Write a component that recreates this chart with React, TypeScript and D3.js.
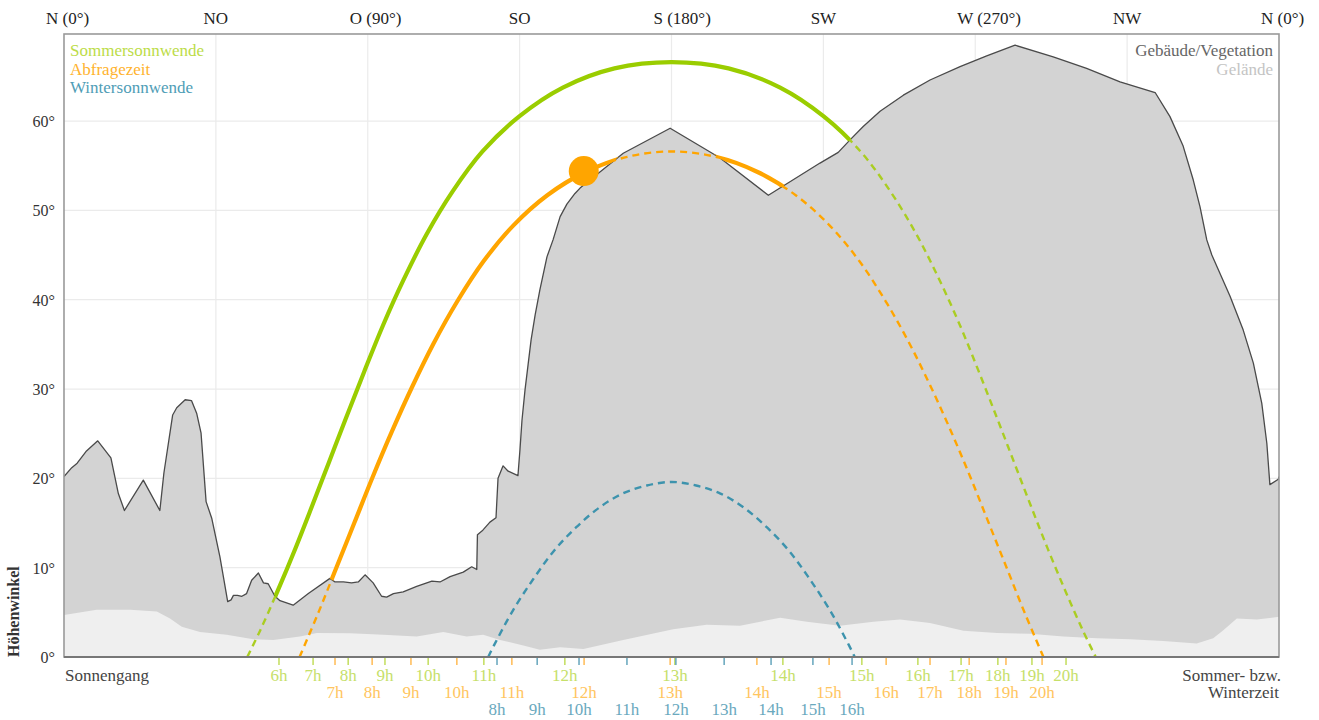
import React from 'react';
import * as d3 from 'd3';

// ---------- data ----------
const directionLabels = ['N (0°)', 'NO', 'O (90°)', 'SO', 'S (180°)', 'SW', 'W (270°)', 'NW', 'N (0°)'];
const directionAz = [0, 45, 90, 135, 180, 225, 270, 315, 360];
const elevationTicks = [0, 10, 20, 30, 40, 50, 60];

// Gebäude/Vegetation horizon [azimuth, elevation]
const horizon: [number, number][] = [
  [0, 20.2], [2.3, 21.2], [3.9, 21.7], [6.5, 23.0], [10.0, 24.2], [13.9, 22.3], [16.1, 18.3], [17.9, 16.4],
  [23.5, 19.8], [28.4, 16.4], [29.6, 20.6], [32.2, 27.1], [33.4, 27.9], [35.9, 28.8], [37.8, 28.7], [39.3, 27.3],
  [40.6, 25.1], [42.1, 17.4], [43.8, 15.5], [46.2, 11.2], [47.4, 8.6], [48.5, 6.2], [49.5, 6.4], [50.2, 6.9],
  [51.4, 6.9], [52.7, 6.8], [54.1, 7.1], [55.6, 8.6], [57.6, 9.4], [59.1, 8.3], [60.5, 8.2], [62.5, 6.8],
  [64.0, 6.3], [67.9, 5.8], [72.4, 7.1], [78.8, 8.8], [80.3, 8.4], [82.8, 8.4], [85.2, 8.3], [87.2, 8.4],
  [89.2, 9.2], [91.6, 8.3], [94.1, 6.8], [95.6, 6.7], [97.6, 7.1], [100.5, 7.3], [104.5, 7.9], [109.0, 8.5],
  [111.4, 8.4], [114.4, 9.0], [118.3, 9.5], [120.8, 10.1], [122.3, 9.8], [122.5, 13.7], [124.1, 14.2],
  [126.2, 15.1], [128.0, 15.6], [128.6, 20.0], [130.1, 21.4], [131.6, 20.8], [134.5, 20.3], [135.1, 23.2],
  [135.7, 26.5], [136.6, 29.9], [137.5, 32.7], [138.4, 35.5], [139.6, 38.3], [141.0, 41.1], [143.1, 44.8],
  [144.9, 46.7], [147.0, 49.3], [149.0, 50.7], [151.4, 51.9], [152.9, 52.5], [165.7, 56.4], [179.6, 59.2],
  [194.3, 55.9], [208.7, 51.7], [224.0, 55.3], [229.4, 56.5], [232.9, 57.9], [236.8, 59.4], [241.8, 61.1],
  [248.7, 62.9], [256.6, 64.6], [265.5, 66.1], [273.4, 67.3], [281.8, 68.5], [293.1, 67.2], [303.0, 65.9],
  [312.9, 64.4], [323.3, 63.2], [327.7, 60.5], [331.6, 57.2], [334.6, 53.4], [336.6, 50.4], [338.6, 46.7],
  [340.1, 45.0], [345.5, 40.4], [349.4, 36.6], [352.4, 32.9], [354.9, 28.4], [356.4, 23.9], [357.3, 19.3],
  [359.8, 19.9], [360, 20.2],
];

// Gelände (terrain) horizon [azimuth, elevation]
const terrain: [number, number][] = [
  [0, 4.7], [9.7, 5.3], [19.6, 5.3], [27.5, 5.1], [31.4, 4.3], [34.9, 3.4], [40.3, 2.8], [48.2, 2.5],
  [56.1, 2.0], [62.0, 1.9], [69.9, 2.3], [74.9, 2.7], [84.7, 2.65], [94.6, 2.5], [104.5, 2.3], [112.4, 2.8],
  [119.3, 2.3], [124.2, 2.5], [129.2, 1.9], [136.1, 1.3], [141.0, 0.8], [147.0, 1.1], [153.9, 0.9],
  [165.7, 1.9], [180.5, 3.1], [190.4, 3.6], [200.3, 3.5], [212.2, 4.4], [220.1, 3.95], [229.9, 3.5],
  [239.8, 3.95], [247.7, 4.2], [256.6, 3.8], [266.5, 2.95], [276.4, 2.7], [286.2, 2.6], [296.1, 2.3],
  [306.0, 2.1], [315.9, 2.0], [325.7, 1.8], [335.6, 1.5], [340.5, 2.1], [343.5, 3.0], [347.5, 4.3],
  [353.4, 4.2], [360, 4.5],
];

// Sun paths [azimuth, elevation]
const summerPath: [number, number][] = [
  [54.3, 0], [58.1, 2.95], [63.3, 7.4], [68.5, 12.1], [73.5, 16.9], [78.6, 21.9], [83.7, 26.9], [89.0, 32.0],
  [94.6, 37.2], [100.7, 42.3], [107.4, 47.3], [115.1, 52.1], [124.0, 56.6], [134.8, 60.5], [147.8, 63.75],
  [163.1, 65.9], [180, 66.6], [196.9, 65.9], [212.2, 63.75], [225.2, 60.5], [236.0, 56.6], [244.9, 52.1],
  [252.6, 47.3], [259.3, 42.3], [265.4, 37.2], [271.0, 32.0], [276.3, 26.9], [281.4, 21.9], [286.5, 16.9],
  [291.5, 12.1], [296.7, 7.4], [301.9, 2.95], [305.7, 0],
];
const queryPath: [number, number][] = [
  [69.8, 0], [75.3, 4.9], [80.6, 9.9], [86.0, 15.0], [91.4, 20.1], [97.1, 25.2], [103.1, 30.2], [109.5, 35.1],
  [116.5, 39.8], [124.3, 44.3], [133.1, 48.3], [143.2, 51.7], [154.5, 54.3], [166.9, 56.0], [180, 56.6],
  [193.1, 56.0], [205.5, 54.3], [216.8, 51.7], [226.9, 48.3], [235.7, 44.3], [243.5, 39.8], [250.5, 35.1],
  [256.9, 30.2], [262.9, 25.2], [268.6, 20.1], [274.0, 15.0], [279.4, 9.9], [284.7, 4.9], [290.2, 0],
];
const winterPath: [number, number][] = [
  [125.7, 0], [127.4, 1.3], [133.0, 5.2], [139.0, 8.7], [145.2, 11.9], [151.7, 14.5], [158.5, 16.7],
  [165.5, 18.3], [172.7, 19.2], [180, 19.6], [187.3, 19.2], [194.5, 18.3], [201.5, 16.7], [208.3, 14.5],
  [214.8, 11.9], [221.0, 8.7], [227.0, 5.2], [232.6, 1.3], [234.3, 0],
];
const sunPosition: [number, number] = [154.0, 54.4];

// Hour marks (azimuth of the sun at each full hour)
const summerHourLabels = ['6h', '7h', '8h', '9h', '10h', '11h', '12h', '13h', '14h', '15h', '16h', '17h', '18h', '19h', '20h'];
const summerHourAz = [63.7, 73.8, 84.2, 95.1, 107.9, 124.4, 148.4, 181.0, 213.0, 236.4, 253.0, 265.8, 276.7, 286.8, 296.9];
const queryHourLabels = ['7h', '8h', '9h', '10h', '11h', '12h', '13h', '14h', '15h', '16h', '17h', '18h', '19h', '20h'];
const queryHourAz = [80.3, 91.3, 102.8, 116.4, 132.7, 154.1, 179.6, 205.3, 226.7, 243.6, 256.6, 268.2, 279.1, 289.8];
const winterHourLabels = ['8h', '9h', '10h', '11h', '12h', '13h', '14h', '15h', '16h'];
const winterHourAz = [128.3, 140.2, 152.6, 166.8, 181.3, 195.6, 209.5, 221.9, 233.5];

// ---------- layout / style ----------
const W = 1319;
const H = 720;
const L = 64;
const R = 1279;
const T = 34;
const B = 657;
const FONT = '"Liberation Serif", "Times New Roman", serif';

const C_SUMMER = '#9acd00';
const C_QUERY = '#ffa500';
const C_WINTER = '#3d93ad';

export default function App() {
  const x = d3.scaleLinear().domain([0, 360]).range([L, R]);
  const y = d3.scaleLinear().domain([0, 69.75]).range([B, T]);

  const area = d3.area<[number, number]>().x((d) => x(d[0])).y0(y(0)).y1((d) => y(d[1]));
  const skyArea = d3.area<[number, number]>().x((d) => x(d[0])).y0(y(69.75)).y1((d) => y(d[1]));
  const hLine = d3.line<[number, number]>().x((d) => x(d[0])).y((d) => y(d[1]));
  const sunLine = d3
    .line<[number, number]>()
    .x((d) => x(d[0]))
    .y((d) => y(d[1]))
    .curve(d3.curveCatmullRom.alpha(0.5));

  const hourRows = [
    { labels: summerHourLabels, az: summerHourAz, tick: '#c2dd5c', text: '#c6e06a', dy: 24 },
    { labels: queryHourLabels, az: queryHourAz, tick: '#ffbb55', text: '#ffc560', dy: 41 },
    { labels: winterHourLabels, az: winterHourAz, tick: '#65a5bc', text: '#6aa9be', dy: 58 },
  ];

  return (
    <svg
      width={W}
      height={H}
      style={{ position: 'absolute', left: 0, top: 0, display: 'block', background: '#fff' }}
      fontFamily={FONT}
    >
      <defs>
        <clipPath id="sky">
          <path d={skyArea(horizon) || ''} />
        </clipPath>
        <clipPath id="plot">
          <rect x={L} y={T} width={R - L} height={B - T} />
        </clipPath>
      </defs>

      {/* grid */}
      {elevationTicks.slice(1).map((v) => (
        <line key={'gy' + v} x1={L} x2={R} y1={y(v)} y2={y(v)} stroke="#ebebeb" strokeWidth={1.2} />
      ))}
      {directionAz.slice(1, -1).map((a) => (
        <line key={'gx' + a} x1={x(a)} x2={x(a)} y1={T} y2={B} stroke="#ebebeb" strokeWidth={1.2} />
      ))}

      {/* horizon + terrain */}
      <g clipPath="url(#plot)">
        <path d={area(horizon) || ''} fill="#d3d3d3" />
        <path d={area(terrain) || ''} fill="#efefef" />
        <path d={hLine(horizon) || ''} fill="none" stroke="#4a4a4a" strokeWidth={1.3} strokeLinejoin="round" />
      </g>

      {/* sun paths */}
      <g clipPath="url(#plot)">
        <path d={sunLine(winterPath) || ''} fill="none" stroke={C_WINTER} strokeWidth={2.4} strokeDasharray="7,5" />
        <path d={sunLine(queryPath) || ''} fill="none" stroke={C_QUERY} strokeWidth={2.4} strokeDasharray="7,5" />
        <path d={sunLine(summerPath) || ''} fill="none" stroke="#aacd22" strokeWidth={2.4} strokeDasharray="7,5" />
        <g clipPath="url(#sky)">
          <path d={sunLine(queryPath) || ''} fill="none" stroke={C_QUERY} strokeWidth={4.2} />
          <path d={sunLine(summerPath) || ''} fill="none" stroke={C_SUMMER} strokeWidth={4.2} />
        </g>
        <circle cx={x(sunPosition[0])} cy={y(sunPosition[1])} r={15} fill={C_QUERY} />
      </g>

      {/* frame */}
      <rect x={L} y={T} width={R - L} height={B - T} fill="none" stroke="#9a9a9a" strokeWidth={1.6} />
      <line x1={L} x2={R} y1={B} y2={B} stroke="#777" strokeWidth={2} />

      {/* top direction labels */}
      {directionLabels.map((lab, i) => {
        const withDeg = lab.includes('(');
        return (
          <text
            key={'d' + i}
            x={withDeg ? x(directionAz[i]) - 18 : x(directionAz[i])}
            y={24}
            fontSize={17}
            fill="#222"
            textAnchor={withDeg ? 'start' : 'middle'}
          >
            {lab}
          </text>
        );
      })}

      {/* y labels */}
      {elevationTicks.map((v) => (
        <text key={'yl' + v} x={55} y={y(v) + 6} fontSize={16} fill="#333" textAnchor="end">
          {v}°
        </text>
      ))}
      <text transform={`translate(19, ${B}) rotate(-90)`} fontSize={16} fontWeight="bold" fill="#333" textAnchor="start">
        Höhenwinkel
      </text>

      {/* legends */}
      <text x={70} y={56} fontSize={17} fill="#bcdc48">Sommersonnwende</text>
      <text x={70} y={75} fontSize={17} fill="#ffb32e">Abfragezeit</text>
      <text x={70} y={93} fontSize={17} fill="#4f9db6">Wintersonnwende</text>
      <text x={1273} y={56} fontSize={17} fill="#666" textAnchor="end">Gebäude/Vegetation</text>
      <text x={1273} y={75} fontSize={17} fill="#c4c4c4" textAnchor="end">Gelände</text>

      {/* bottom */}
      <text x={65} y={681} fontSize={17} fill="#444">Sonnengang</text>
      <text x={1281} y={681} fontSize={17} fill="#444" textAnchor="end">Sommer- bzw.</text>
      <text x={1279} y={698} fontSize={17} fill="#444" textAnchor="end">Winterzeit</text>

      {hourRows.map((row, ri) => (
        <g key={'row' + ri}>
          {row.az.map((a, i) => (
            <g key={i}>
              <line x1={x(a)} x2={x(a)} y1={B + 1} y2={B + 8} stroke={row.tick} strokeWidth={1.5} />
              <text x={x(a)} y={B + row.dy} fontSize={17} fill={row.text} textAnchor="middle">
                {row.labels[i]}
              </text>
            </g>
          ))}
        </g>
      ))}
    </svg>
  );
}
